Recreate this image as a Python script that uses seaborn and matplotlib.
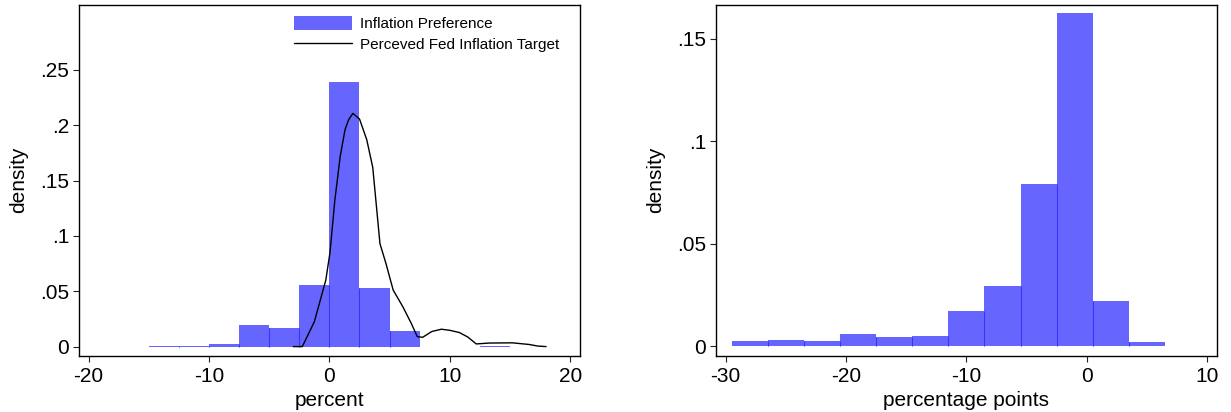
import numpy as np
import pandas as pd
import seaborn as sns
import matplotlib.pyplot as plt
from matplotlib.patches import Patch
from matplotlib.lines import Line2D

sns.set_style("ticks")
plt.rcParams["font.family"] = ["Liberation Sans", "DejaVu Sans"]
plt.rcParams["text.color"] = "black"
plt.rcParams["axes.labelcolor"] = "black"

# left panel: inflation preference (histogram density, bins of 2.5 starting at -15)
pref_start = -15.0
pref_width = 2.5
pref_density = [0.0006, 0.0006, 0.0024, 0.0195, 0.0167, 0.0555,
                0.2390, 0.0525, 0.0141, 0.0, 0.0, 0.0006]

# perceived Fed inflation target (kernel density)
fed_x = [-3.0, -2.25, -1.25, -0.3, 0.05, 0.45, 0.9, 1.3, 1.6, 1.95, 2.5,
         3.1, 3.6, 4.2, 4.7, 5.3, 6.1, 6.8, 7.3, 7.75, 8.5, 9.3, 10.0,
         10.8, 11.5, 12.2, 13.3, 15.2, 16.6, 17.3, 18.0]
fed_y = [0.0, 0.0, 0.0225, 0.060, 0.085, 0.132, 0.172, 0.196, 0.205, 0.2107,
         0.2056, 0.187, 0.162, 0.093, 0.075, 0.051, 0.036, 0.021, 0.009,
         0.0084, 0.0136, 0.0157, 0.0147, 0.0127, 0.0086, 0.0024, 0.0032,
         0.0034, 0.0019, 0.0005, 0.0]

# right panel: gap (histogram density, bins of 3 starting at -29.5)
gap_start = -29.5
gap_width = 3.0
gap_density = [0.0023, 0.0032, 0.0023, 0.0057, 0.0043, 0.0048,
               0.0170, 0.0296, 0.0794, 0.1627, 0.0222, 0.0018]

left_xticks = [-20, -10, 0, 10, 20]
left_yticks = [0, 0.05, 0.1, 0.15, 0.2, 0.25]
left_ylabels = ["0", ".05", ".1", ".15", ".2", ".25"]
right_xticks = [-30, -20, -10, 0, 10]
right_yticks = [0, 0.05, 0.1, 0.15]
right_ylabels = ["0", ".05", ".1", ".15"]

BAR = "#6666ff"
EDGE = "#3535ff"


def draw_hist(ax, start, width, dens):
    edges = start + width * np.arange(len(dens) + 1)
    df = pd.DataFrame({"mid": edges[:-1] + width / 2, "dens": dens})
    sns.histplot(data=df, x="mid", weights="dens", bins=list(edges), stat="count",
                 color=BAR, alpha=1, linewidth=0, ax=ax)
    # darker dividers between neighbouring bars, like the Stata output
    d = np.asarray(dens)
    tops = np.minimum(d[:-1], d[1:])
    ax.vlines(edges[1:-1], 0, tops, color=EDGE, linewidth=0.8, zorder=3)


def style_axes(ax, xticks, yticks, ylabels, xlim, ylim, xlabel):
    ax.set_xlim(xlim)
    ax.set_ylim(ylim)
    ax.set_xticks(xticks)
    ax.set_xticklabels([str(t) for t in xticks])
    ax.set_yticks(yticks)
    ax.set_yticklabels(ylabels)
    ax.set_xlabel(xlabel, fontsize=15, labelpad=4)
    ax.set_ylabel("density", fontsize=15, labelpad=9)
    ax.tick_params(axis="both", labelsize=15, length=4.3, width=0.8,
                   color="#222222", labelcolor="black", direction="out")
    ax.tick_params(axis="x", pad=3.6)
    ax.tick_params(axis="y", pad=2.7)
    for s in ax.spines.values():
        s.set_color("black")
        s.set_linewidth(1.0)


fig, (ax1, ax2) = plt.subplots(1, 2, figsize=(12.31, 4.12), dpi=100)
fig.subplots_adjust(left=0.0642, right=0.9884, bottom=0.137, top=0.989, wspace=0.272)

draw_hist(ax1, pref_start, pref_width, pref_density)
sns.lineplot(x=fed_x, y=fed_y, color="black", linewidth=1.0, ax=ax1, zorder=4)
style_axes(ax1, left_xticks, left_yticks, left_ylabels,
           (-20.8, 20.8), (-0.0081, 0.309), "percent")

handles = [Patch(facecolor=BAR, edgecolor="none"),
           Line2D([0], [0], color="black", linewidth=1.0)]
ax1.legend(handles, ["Inflation Preference", "Perceved Fed Inflation Target"],
           loc="upper left", bbox_to_anchor=(0.429, 0.967), frameon=False,
           fontsize=11, handlelength=3.8, handleheight=1.0, handletextpad=0.55,
           labelspacing=0.36, borderpad=0, borderaxespad=0)

draw_hist(ax2, gap_start, gap_width, gap_density)
style_axes(ax2, right_xticks, right_yticks, right_ylabels,
           (-30.8, 10.8), (-0.0046, 0.1668), "percentage points")

fig.savefig("out.png", dpi=100)
